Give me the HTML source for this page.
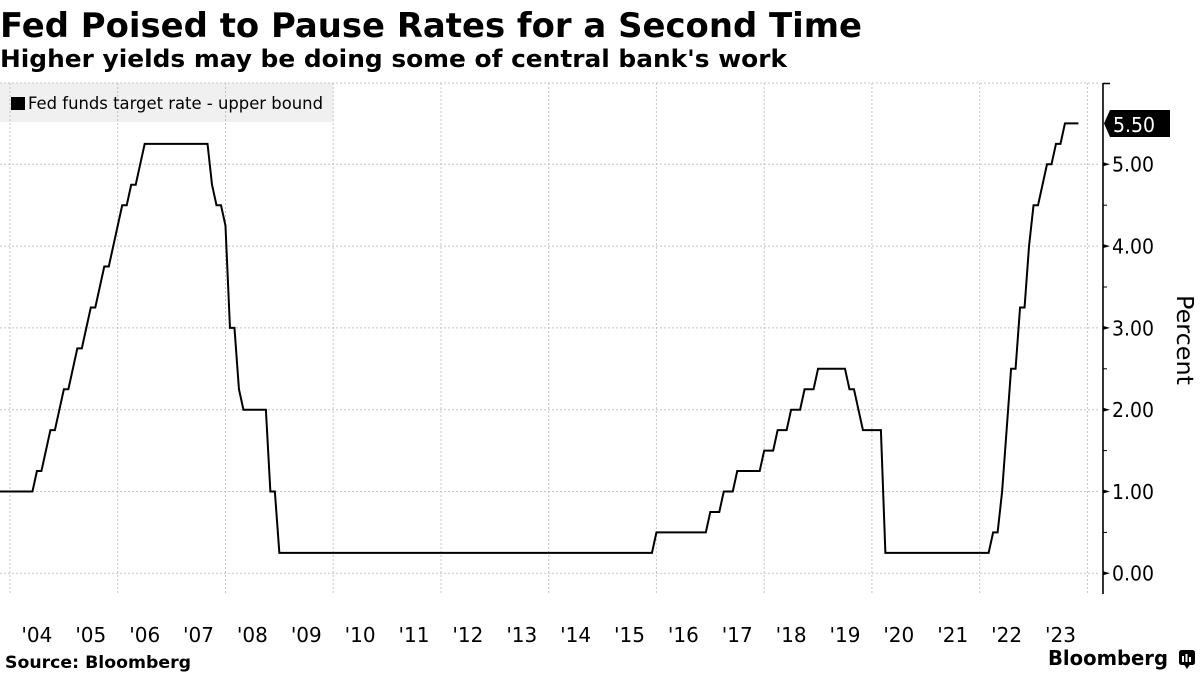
<!DOCTYPE html>
<html>
<head>
<meta charset="utf-8">
<style>
  html, body { margin: 0; padding: 0; background: #ffffff; }
  svg { display: block; }
</style>
</head>
<body>
<svg width="1200" height="675" viewBox="0 0 1200 675" xmlns="http://www.w3.org/2000/svg">
  <rect x="0" y="0" width="1200" height="675" fill="#ffffff"/>

  <!-- Title & subtitle -->
  <text x="0" y="37" font-family="'DejaVu Sans', 'Liberation Sans', sans-serif" font-weight="bold" font-size="34" fill="#000" textLength="862" lengthAdjust="spacingAndGlyphs">Fed Poised to Pause Rates for a Second Time</text>
  <text x="0" y="67" font-family="'DejaVu Sans', 'Liberation Sans', sans-serif" font-weight="bold" font-size="24" fill="#000" textLength="787" lengthAdjust="spacingAndGlyphs">Higher yields may be doing some of central bank's work</text>

  <!-- Legend box -->
  <rect x="0" y="83" width="333" height="39" fill="#f0f0f0"/>

  <!-- Gridlines -->
  <g stroke="#c4c4c4" stroke-width="1" stroke-dasharray="2,2" fill="none">
    <line x1="0" y1="83" x2="1100" y2="83"/>
    <line x1="0" y1="164.3" x2="1100" y2="164.3"/>
    <line x1="0" y1="246.1" x2="1100" y2="246.1"/>
    <line x1="0" y1="327.9" x2="1100" y2="327.9"/>
    <line x1="0" y1="409.7" x2="1100" y2="409.7"/>
    <line x1="0" y1="491.5" x2="1100" y2="491.5"/>
    <line x1="0" y1="573.3" x2="1100" y2="573.3"/>

    <line x1="10" y1="83" x2="10" y2="595"/>
    <line x1="117.7" y1="83" x2="117.7" y2="595"/>
    <line x1="225.5" y1="83" x2="225.5" y2="595"/>
    <line x1="333.2" y1="83" x2="333.2" y2="595"/>
    <line x1="441" y1="83" x2="441" y2="595"/>
    <line x1="548.7" y1="83" x2="548.7" y2="595"/>
    <line x1="656.4" y1="83" x2="656.4" y2="595"/>
    <line x1="764.2" y1="83" x2="764.2" y2="595"/>
    <line x1="871.9" y1="83" x2="871.9" y2="595"/>
    <line x1="979.7" y1="83" x2="979.7" y2="595"/>
    <line x1="1087.4" y1="83" x2="1087.4" y2="595"/>
  </g>

  <!-- Legend content -->
  <rect x="11" y="97" width="14" height="13" fill="#000"/>
  <text x="28" y="109" font-family="'DejaVu Sans', 'Liberation Sans', sans-serif" font-size="17" fill="#000" textLength="295" lengthAdjust="spacingAndGlyphs">Fed funds target rate - upper bound</text>

  <!-- Series -->
  <polyline fill="none" stroke="#000" stroke-width="2" stroke-linejoin="miter" points="
    0,491.5 32.45,491.5 36.94,471.05 41.42,471.05 45.91,450.6 50.40,430.15 54.89,430.15
    59.38,409.7 63.87,389.25 68.36,389.25 72.85,368.8 77.34,348.35 81.83,348.35 86.32,327.9
    90.81,307.45 95.29,307.45 99.78,287.0 104.27,266.55 108.76,266.55 113.25,246.1 117.74,225.65
    122.23,205.2 126.72,205.2 131.21,184.75 135.70,184.75 140.19,164.3 144.68,143.85
    207.52,143.85 212.01,184.75 216.50,205.2 220.99,205.2 225.48,225.65 229.97,327.9
    234.46,327.9 238.95,389.25 243.44,409.7 265.88,409.7 270.37,491.5 274.86,491.5 279.35,552.85
    651.95,552.85 656.44,532.4 705.82,532.4 710.31,511.95 719.29,511.95 723.78,491.5
    732.76,491.5 737.25,471.05 759.69,471.05 764.18,450.6 773.16,450.6 777.65,430.15
    786.63,430.15 791.12,409.7 800.09,409.7 804.58,389.25 813.56,389.25 818.05,368.8
    844.99,368.8 849.47,389.25 853.96,389.25 858.45,409.7 862.94,430.15 880.90,430.15
    885.38,552.85 988.64,552.85 993.13,532.4 997.62,532.4 1002.11,491.5 1006.60,430.15
    1011.09,368.8 1015.57,368.8 1020.06,307.45 1024.55,307.45 1029.04,246.1 1033.53,205.2
    1038.02,205.2 1042.51,184.75 1047.00,164.3 1051.49,164.3 1055.98,143.85 1060.47,143.85
    1064.95,123.4 1078.42,123.4"/>

  <!-- Right axis -->
  <line x1="1103" y1="83" x2="1103" y2="594" stroke="#000" stroke-width="1.6"/>
  <line x1="1103" y1="83.5" x2="1110" y2="83.5" stroke="#000" stroke-width="1.5"/>
  <g fill="#000">
    <polygon points="1103,162.3 1110,164.3 1103,166.3"/>
    <polygon points="1103,244.1 1110,246.1 1103,248.1"/>
    <polygon points="1103,325.9 1110,327.9 1103,329.9"/>
    <polygon points="1103,407.7 1110,409.7 1103,411.7"/>
    <polygon points="1103,489.5 1110,491.5 1103,493.5"/>
    <polygon points="1103,571.3 1110,573.3 1103,575.3"/>
  </g>
  <g stroke="#000" stroke-width="1">
    <line x1="1103" y1="205.2" x2="1107" y2="205.2"/>
    <line x1="1103" y1="287" x2="1107" y2="287"/>
    <line x1="1103" y1="368.8" x2="1107" y2="368.8"/>
    <line x1="1103" y1="450.6" x2="1107" y2="450.6"/>
    <line x1="1103" y1="532.4" x2="1107" y2="532.4"/>
  </g>
  <g font-family="'DejaVu Sans', 'Liberation Sans', sans-serif" font-size="20" fill="#000">
    <text x="1112" y="171.7" textLength="42" lengthAdjust="spacingAndGlyphs">5.00</text>
    <text x="1112" y="253.5" textLength="42" lengthAdjust="spacingAndGlyphs">4.00</text>
    <text x="1112" y="335.3" textLength="42" lengthAdjust="spacingAndGlyphs">3.00</text>
    <text x="1112" y="417.1" textLength="42" lengthAdjust="spacingAndGlyphs">2.00</text>
    <text x="1112" y="498.9" textLength="42" lengthAdjust="spacingAndGlyphs">1.00</text>
    <text x="1112" y="580.7" textLength="42" lengthAdjust="spacingAndGlyphs">0.00</text>
  </g>

  <!-- Current value marker -->
  <polygon points="1104,123.4 1110,110 1170,110 1170,137 1110,137" fill="#000"/>
  <text x="1113" y="132" font-family="'DejaVu Sans', 'Liberation Sans', sans-serif" font-size="20" fill="#fff" textLength="42" lengthAdjust="spacingAndGlyphs">5.50</text>

  <!-- Axis title -->
  <text transform="translate(1177,340) rotate(90)" x="0" y="0" text-anchor="middle" font-family="'DejaVu Sans', 'Liberation Sans', sans-serif" font-size="23" fill="#000" textLength="90" lengthAdjust="spacingAndGlyphs">Percent</text>

  <!-- X-axis labels -->
  <g font-family="'DejaVu Sans', 'Liberation Sans', sans-serif" font-size="20" fill="#000" text-anchor="middle">
    <text x="36.9" y="642">'04</text>
    <text x="90.8" y="642">'05</text>
    <text x="144.7" y="642">'06</text>
    <text x="198.5" y="642">'07</text>
    <text x="252.4" y="642">'08</text>
    <text x="306.3" y="642">'09</text>
    <text x="360.1" y="642">'10</text>
    <text x="414.0" y="642">'11</text>
    <text x="467.9" y="642">'12</text>
    <text x="521.8" y="642">'13</text>
    <text x="575.6" y="642">'14</text>
    <text x="629.5" y="642">'15</text>
    <text x="683.4" y="642">'16</text>
    <text x="737.2" y="642">'17</text>
    <text x="791.1" y="642">'18</text>
    <text x="845.0" y="642">'19</text>
    <text x="898.8" y="642">'20</text>
    <text x="952.7" y="642">'21</text>
    <text x="1006.6" y="642">'22</text>
    <text x="1060.5" y="642">'23</text>
  </g>

  <!-- Footer -->
  <text x="5" y="668" font-family="'DejaVu Sans', 'Liberation Sans', sans-serif" font-weight="bold" font-size="17" fill="#000" textLength="186" lengthAdjust="spacingAndGlyphs">Source: Bloomberg</text>
  <text x="1048" y="665" font-family="'DejaVu Sans', 'Liberation Sans', sans-serif" font-weight="bold" font-size="20" fill="#000" textLength="120" lengthAdjust="spacingAndGlyphs">Bloomberg</text>
  <!-- Bloomberg icon -->
  <rect x="1179" y="650" width="16" height="15" rx="2.5" fill="#000"/>
  <polygon points="1184,664.5 1190,664.5 1187,669" fill="#000"/>
  <g fill="#fff">
    <rect x="1182" y="656" width="2" height="6"/>
    <rect x="1185.5" y="654" width="2" height="8"/>
    <rect x="1189" y="657" width="2" height="5"/>
  </g>
</svg>
</body>
</html>
